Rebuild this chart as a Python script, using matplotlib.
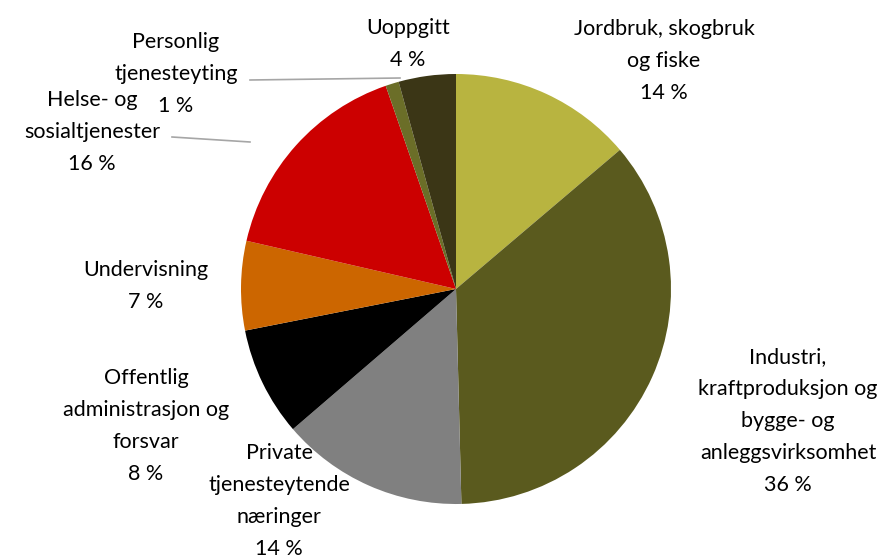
import matplotlib.pyplot as plt
import numpy as np

# næringer og andeler (prosent)
kategorier = ["Jordbruk, skogbruk\nog fiske",
              "Industri,\nkraftproduksjon og\nbygge- og\nanleggsvirksomhet",
              "Private\ntjenesteytende\nnæringer",
              "Offentlig\nadministrasjon og\nforsvar",
              "Undervisning",
              "Helse- og\nsosialtjenester",
              "Personlig\ntjenesteyting",
              "Uoppgitt"]
andel = [13.8, 35.8, 14.1, 8.2, 6.7, 16.1, 1.0, 4.3]
farger = ["#B8B440", "#5A5A1E", "#808080", "#000000",
          "#CC6600", "#CC0000", "#6B6E28", "#3B3616"]

# plassering av etiketter (piksler, y nedover)
etikett_pos = [(664, 61), (788, 421), (279, 501), (146, 426),
               (146, 286), (92, 132), (176, 74), (408, 44)]

plt.rcParams['font.family'] = ['Lato', 'DejaVu Sans']

fig = plt.figure(figsize=(8.8, 5.56), dpi=100)
ax = fig.add_axes([0, 0, 1, 1])

cx, cy, r = 456, 556 - 289, 215
ax.pie(andel, colors=farger, startangle=90, counterclock=False,
       center=(cx, cy), radius=r, frame=True)
ax.set_xlim(0, 880)
ax.set_ylim(0, 556)
ax.set_aspect('equal')
ax.axis('off')

for navn, verdi, (x, y) in zip(kategorier, andel, etikett_pos):
    ax.text(x, 556 - y, f"{navn}\n{round(verdi):.0f} %", ha='center', va='center',
            fontsize=15.5, linespacing=1.75, color='black')

# ledelinjer
ax.plot([250, 400], [556 - 80, 556 - 78], color='#A6A6A6', lw=1.2)
ax.plot([172, 250], [556 - 137, 556 - 142], color='#A6A6A6', lw=1.2)

fig.savefig("out.png", dpi=100)
